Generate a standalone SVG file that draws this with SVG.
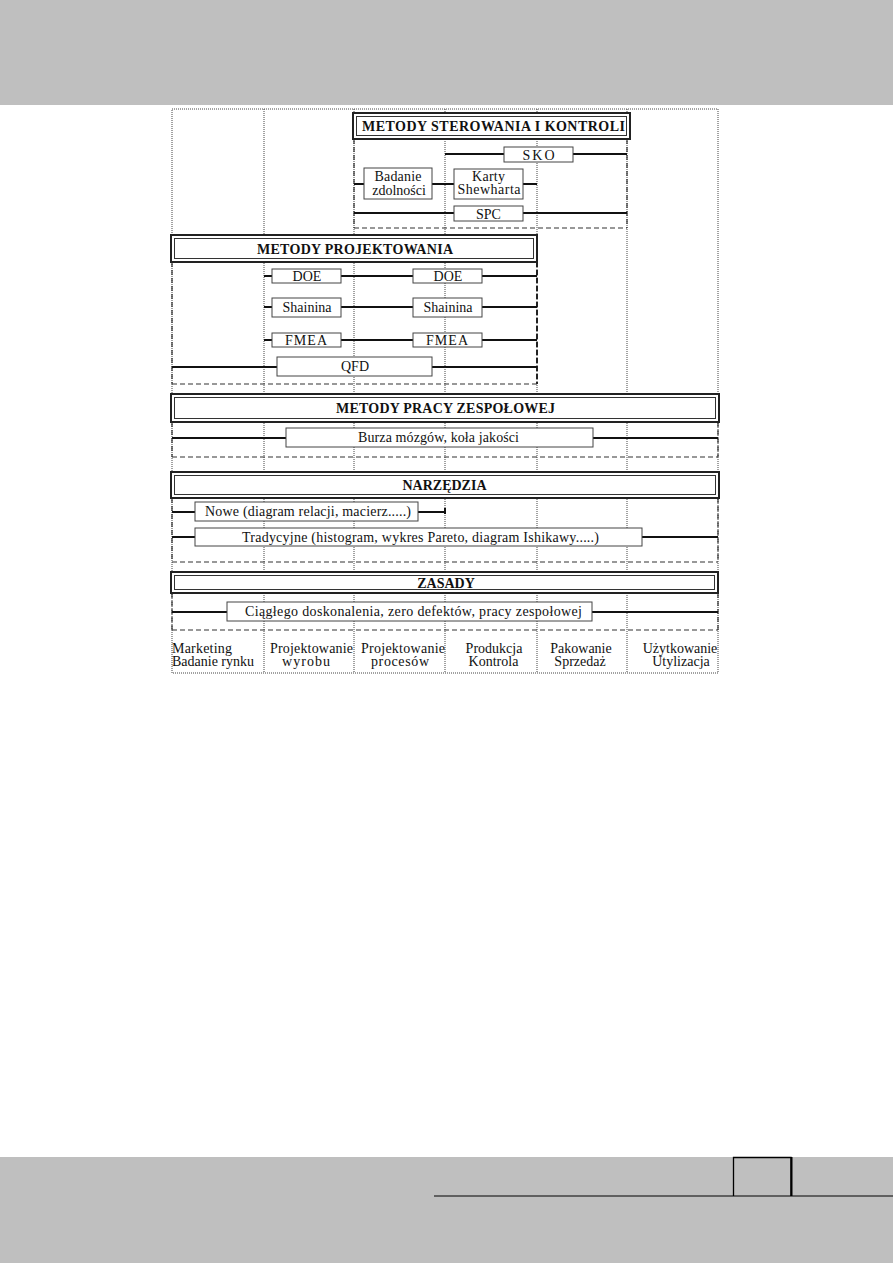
<svg xmlns="http://www.w3.org/2000/svg" width="893" height="1263" viewBox="0 0 893 1263">
<style>
.band{fill:#bfbfbf}
.dot{stroke:#444;stroke-width:1;stroke-dasharray:1 1;fill:none}
.dash{stroke:#333;stroke-width:1.2;stroke-dasharray:5 3;fill:none}
.dashb{stroke:#222;stroke-width:2;stroke-dasharray:5 3;fill:none}
.con{stroke:#111;stroke-width:2;fill:none}
.box{fill:#fff;stroke:#444;stroke-width:1}
.ho{fill:#fff;stroke:#222;stroke-width:2}
.hi{fill:none;stroke:#333;stroke-width:1}
text{font-family:"Liberation Serif","Times New Roman",serif;font-size:14px;fill:#111}
.c{text-anchor:middle}
.b{font-weight:bold;font-size:14px}
</style>
<rect width="893" height="1263" fill="#fff"/>
<rect class="band" x="0" y="0" width="893" height="105"/>
<rect class="band" x="0" y="1157" width="893" height="106"/>
<line x1="434" y1="1196" x2="893" y2="1196" stroke="#000" stroke-width="1"/>
<path d="M733.5 1196 V1157.5 H791 V1196" fill="none" stroke="#000" stroke-width="1.3"/>
<line x1="791.5" y1="1157" x2="791.5" y2="1196" stroke="#000" stroke-width="2"/>

<g id="grid">
<rect class="dot" x="172" y="109" width="546" height="564"/>
<line class="dot" x1="264" y1="109" x2="264" y2="673"/>
<line class="dot" x1="354" y1="109" x2="354" y2="673"/>
<line class="dot" x1="445" y1="109" x2="445" y2="673"/>
<line class="dot" x1="537" y1="109" x2="537" y2="673"/>
<line class="dot" x1="627" y1="109" x2="627" y2="673"/>
<line class="dash" x1="354" y1="139" x2="354" y2="228"/>
<line class="dash" x1="627" y1="139" x2="627" y2="228"/>
<line class="dash" x1="354" y1="228" x2="627" y2="228"/>
<line class="dash" x1="172" y1="262" x2="172" y2="384"/>
<line class="dashb" x1="537" y1="262" x2="537" y2="384"/>
<line class="dash" x1="172" y1="384" x2="537" y2="384"/>
<line class="dash" x1="172" y1="422" x2="172" y2="457"/>
<line class="dash" x1="718" y1="422" x2="718" y2="457"/>
<line class="dash" x1="172" y1="457" x2="718" y2="457"/>
<line class="dash" x1="172" y1="498" x2="172" y2="562"/>
<line class="dash" x1="718" y1="498" x2="718" y2="562"/>
<line class="dash" x1="172" y1="562" x2="718" y2="562"/>
<line class="dash" x1="172" y1="593" x2="172" y2="630"/>
<line class="dash" x1="718" y1="593" x2="718" y2="630"/>
<line class="dash" x1="172" y1="630" x2="718" y2="630"/>
</g>

<g id="connectors">
<line class="con" x1="445" y1="154" x2="504" y2="154"/>
<line class="con" x1="573" y1="154" x2="627" y2="154"/>
<line class="con" x1="354" y1="184" x2="364" y2="184"/>
<line class="con" x1="432" y1="184" x2="454" y2="184"/>
<line class="con" x1="523" y1="184" x2="537" y2="184"/>
<line class="con" x1="354" y1="213" x2="454" y2="213"/>
<line class="con" x1="523" y1="213" x2="627" y2="213"/>
<line class="con" x1="264" y1="276" x2="272" y2="276"/>
<line class="con" x1="341" y1="276" x2="413" y2="276"/>
<line class="con" x1="482" y1="276" x2="537" y2="276"/>
<line class="con" x1="264" y1="307" x2="272" y2="307"/>
<line class="con" x1="341" y1="307" x2="413" y2="307"/>
<line class="con" x1="482" y1="307" x2="537" y2="307"/>
<line class="con" x1="264" y1="340" x2="272" y2="340"/>
<line class="con" x1="341" y1="340" x2="413" y2="340"/>
<line class="con" x1="482" y1="340" x2="537" y2="340"/>
<line class="con" x1="172" y1="367" x2="277" y2="367"/>
<line class="con" x1="432" y1="367" x2="537" y2="367"/>
<line class="con" x1="172" y1="438" x2="286" y2="438"/>
<line class="con" x1="593" y1="438" x2="718" y2="438"/>
<line class="con" x1="172" y1="512" x2="195" y2="512"/>
<line class="con" x1="418" y1="512" x2="445" y2="512"/>
<line class="con" x1="445" y1="508" x2="445" y2="514"/>
<line class="con" x1="172" y1="537" x2="195" y2="537"/>
<line class="con" x1="642" y1="537" x2="718" y2="537"/>
<line class="con" x1="172" y1="612" x2="227" y2="612"/>
<line class="con" x1="592" y1="612" x2="718" y2="612"/>
</g>

<g id="h-sterowania">
<rect class="ho" x="353" y="113" width="277" height="26"/>
<rect class="hi" x="356.5" y="116.5" width="270" height="19"/>
<text class="c b" x="493.5" y="131" textLength="263">METODY STEROWANIA I KONTROLI</text>
</g>
<g id="sko"><rect class="box" x="504" y="147" width="69" height="15"/><text class="c" x="538.5" y="159.5" textLength="32">SKO</text></g>
<g id="badanie"><rect class="box" x="364" y="168" width="68" height="31"/><text class="c" x="398" y="181" textLength="47">Badanie</text><text class="c" x="399" y="195">zdolności</text></g>
<g id="karty"><rect class="box" x="454" y="169" width="69" height="30"/><text class="c" x="488.5" y="181" textLength="33">Karty</text><text class="c" x="489" y="194" textLength="63">Shewharta</text></g>
<g id="spc"><rect class="box" x="454" y="206" width="69" height="15"/><text class="c" x="488.5" y="218.5">SPC</text></g>

<g id="h-projektowania">
<rect class="ho" x="171" y="235" width="366" height="27"/>
<rect class="hi" x="174.5" y="238.5" width="359" height="20"/>
<text class="c b" x="355" y="253.5" textLength="196">METODY PROJEKTOWANIA</text>
</g>
<g id="doe1"><rect class="box" x="272" y="269" width="69" height="14"/><text class="c" x="307" y="281">DOE</text></g>
<g id="doe2"><rect class="box" x="413" y="269" width="69" height="14"/><text class="c" x="448" y="281">DOE</text></g>
<g id="shainina1"><rect class="box" x="272" y="298" width="69" height="19"/><text class="c" x="307" y="312">Shainina</text></g>
<g id="shainina2"><rect class="box" x="413" y="298" width="69" height="19"/><text class="c" x="448" y="312">Shainina</text></g>
<g id="fmea1"><rect class="box" x="272" y="333" width="69" height="14"/><text class="c" x="306" y="345" textLength="42">FMEA</text></g>
<g id="fmea2"><rect class="box" x="413" y="333" width="69" height="14"/><text class="c" x="447" y="345" textLength="42">FMEA</text></g>
<g id="qfd"><rect class="box" x="277" y="357" width="155" height="19"/><text class="c" x="355" y="371">QFD</text></g>

<g id="h-pracy">
<rect class="ho" x="171" y="394" width="548" height="28"/>
<rect class="hi" x="174.5" y="397.5" width="541" height="21"/>
<text class="c b" x="445.5" y="413" textLength="219">METODY PRACY ZESPOŁOWEJ</text>
</g>
<g id="burza"><rect class="box" x="286" y="428" width="307" height="19"/><text class="c" x="438.5" y="442" textLength="161">Burza mózgów, koła jakości</text></g>

<g id="h-narzedzia">
<rect class="ho" x="171" y="472" width="548" height="26"/>
<rect class="hi" x="174.5" y="475.5" width="541" height="19"/>
<text class="c b" x="444.5" y="490">NARZĘDZIA</text>
</g>
<g id="nowe"><rect class="box" x="195" y="502" width="223" height="19"/><text class="c" x="308" y="516" textLength="206">Nowe (diagram relacji, macierz.....)</text></g>
<g id="tradycyjne"><rect class="box" x="195" y="528" width="447" height="18"/><text class="c" x="420.5" y="541.5" textLength="357">Tradycyjne (histogram, wykres Pareto, diagram Ishikawy.....)</text></g>

<g id="h-zasady">
<rect class="ho" x="171" y="572" width="547" height="21"/>
<rect class="hi" x="174.5" y="575.5" width="540" height="14"/>
<text class="c b" x="446" y="587.5">ZASADY</text>
</g>
<g id="ciaglego"><rect class="box" x="227" y="602" width="365" height="19"/><text class="c" x="413.5" y="616" textLength="337">Ciągłego doskonalenia, zero defektów, pracy zespołowej</text></g>

<g id="phases">
<text x="172" y="653" textLength="60">Marketing</text>
<text x="172" y="666">Badanie rynku</text>
<text class="c" x="311.5" y="653" textLength="83">Projektowanie</text>
<text class="c" x="306" y="666" textLength="48">wyrobu</text>
<text class="c" x="403" y="653" textLength="84">Projektowanie</text>
<text class="c" x="400" y="666" textLength="58">procesów</text>
<text class="c" x="494" y="653">Produkcja</text>
<text class="c" x="493.5" y="666">Kontrola</text>
<text class="c" x="581" y="653">Pakowanie</text>
<text class="c" x="580" y="666">Sprzedaż</text>
<text class="c" x="680" y="653">Użytkowanie</text>
<text class="c" x="681" y="666">Utylizacja</text>
</g>
</svg>
